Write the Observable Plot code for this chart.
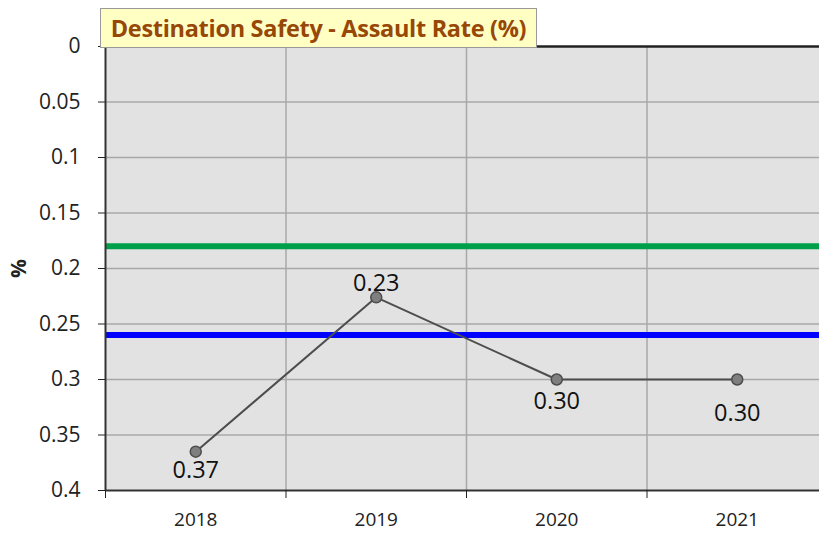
<!DOCTYPE html>
<html><head><meta charset="utf-8">
<script src="https://cdn.jsdelivr.net/npm/d3@7"></script>
<script src="https://cdn.jsdelivr.net/npm/@observablehq/plot@0.6"></script>
<style>
html,body{margin:0;padding:0;background:#fff;overflow:hidden;}
#wrap{position:relative;width:819px;height:536px;overflow:hidden;}
#title{position:absolute;left:100px;top:8px;width:437px;height:40px;box-sizing:border-box;background:#ffffc4;border:1px solid #9a9a9a;color:#974706;font:bold 23.5px "Open Sans", sans-serif;display:flex;align-items:center;justify-content:center;z-index:2;white-space:nowrap;letter-spacing:-0.3px;}
#wrap svg{position:absolute;left:0;top:0;max-width:none !important;}
</style></head><body><div id="wrap"><div id="title">Destination Safety - Assault Rate (%)</div></div>
<script>
const years = [2018, 2019, 2020, 2021];
const assaultRate = [0.365, 0.226, 0.300, 0.300];
const valueLabels = ["0.37", "0.23", "0.30", "0.30"];
const greenTarget = [0.18];
const blueTarget = [0.26];
const yTicks = [0, 0.05, 0.1, 0.15, 0.2, 0.25, 0.3, 0.35, 0.4];
const yTickLabels = ["0", "0.05", "0.1", "0.15", "0.2", "0.25", "0.3", "0.35", "0.4"];
const categoryEdges = [2017.5, 2018.5, 2019.5, 2020.5, 2021.5];

const data = years.map((year, i) => ({year, rate: assaultRate[i], label: valueLabels[i]}));
const labelDy = [19, -14, 22, 34];

const labelMarks = data.map((d, i) =>
  Plot.text([d], {x: "year", y: "rate", text: "label", fontSize: 23.5, fill: "#111", dy: labelDy[i]}));

const chart = Plot.plot({
  width: 830, height: 536,
  marginLeft: 105, marginRight: 3, marginTop: 46, marginBottom: 46,
  style: {fontFamily: "'Open Sans', sans-serif", color: "#222", background: "transparent", maxWidth: "none"},
  x: {domain: [2017.5, 2021.5]},
  y: {domain: [0, 0.4], reverse: true},
  marks: [
    Plot.frame({fill: "#e2e2e2", stroke: null}),
    Plot.ruleY(yTicks.slice(1, -1), {stroke: "#a8a8a8", strokeWidth: 1.5}),
    Plot.ruleX(categoryEdges.slice(1, -1), {stroke: "#a8a8a8", strokeWidth: 1.5}),
    Plot.ruleY(greenTarget, {stroke: "#00a04a", strokeWidth: 6}),
    Plot.ruleY(blueTarget, {stroke: "#0000ff", strokeWidth: 6}),
    Plot.line(data, {x: "year", y: "rate", stroke: "#4d4d4d", strokeWidth: 2}),
    Plot.dot(data, {x: "year", y: "rate", r: 5.5, fill: "#7f7f7f", stroke: "#4d4d4d", strokeWidth: 1.5}),
    ...labelMarks,
    Plot.ruleX([2017.5], {stroke: "#333", strokeWidth: 2}),
    Plot.ruleY([0.4], {stroke: "#333", strokeWidth: 2}),
    Plot.ruleY([0], {stroke: "#222", strokeWidth: 2.5}),
    Plot.axisY({ticks: yTicks, tickSize: 7, tickPadding: 18, fontSize: 21,
      tickFormat: (d, i) => yTickLabels[i], label: "%", labelAnchor: "center", labelArrow: "none", labelOffset: 94}),
    Plot.axisX({ticks: categoryEdges, tickSize: 8, tickFormat: () => "", label: null}),
    Plot.axisX({ticks: years, tickSize: 0, tickPadding: 22, tickFormat: "d", fontSize: 19, label: null})
  ]
});
document.getElementById("wrap").appendChild(chart);
chart.querySelectorAll("text").forEach(t => { if (t.textContent === "%") { t.setAttribute("font-weight", "bold"); t.setAttribute("font-size", "21"); } });
</script>
</body></html>
